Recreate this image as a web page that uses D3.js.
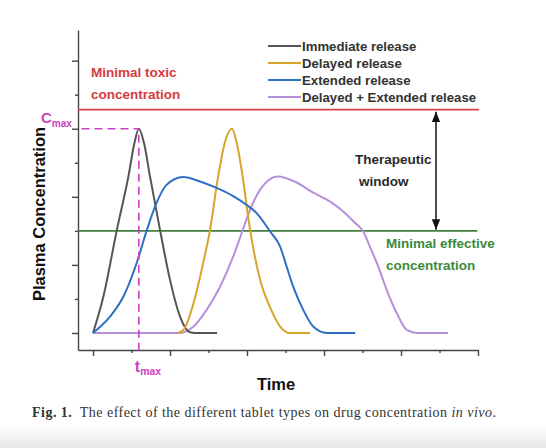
<!DOCTYPE html>
<html>
<head>
<meta charset="utf-8">
<script src="https://cdn.jsdelivr.net/npm/d3@7"></script>
<style>
  body { margin: 0; background: #fff; }
  svg { display: block; }
  .lbl { font-family: "Liberation Sans", Arial, sans-serif; font-weight: bold; }
  .axis path, .axis line { stroke: #444; stroke-width: 1.4; }
</style>
</head>
<body>
<script>
//curve data, time (arbitrary units) and plasma concentration
var seriesNames = ["Immediate release", "Delayed release", "Extended release", "Delayed + Extended release"];

var immediateT = [0, 0.27, 0.62, 0.92, 1.08, 1.19, 1.32, 1.48, 1.74, 2.0, 2.26, 2.52, 2.65, 3.22];
var immediateC = [0, 1.07, 3.03, 4.6, 5.6, 6.0, 5.6, 4.6, 3.03, 1.56, 0.48, 0.02, 0, 0];

var delayedT = [2.2, 2.35, 2.61, 2.86, 3.04, 3.25, 3.45, 3.61, 3.73, 3.86, 4.08, 4.34, 4.6, 4.86, 5.12, 5.64];
var delayedC = [0, 0.09, 0.87, 2.05, 3.03, 4.6, 5.7, 6.0, 5.6, 4.79, 3.03, 1.56, 0.75, 0.19, 0, 0];

var extendedT = [0, 0.44, 0.79, 1.13, 1.4, 1.65, 1.91, 2.34, 2.78, 3.21, 3.64, 3.99, 4.25, 4.6, 4.86, 5.03, 5.2, 5.46, 5.72, 6.07, 6.81];
var extendedC = [0, 0.48, 1.07, 2.04, 3.03, 3.82, 4.35, 4.58, 4.45, 4.26, 4.02, 3.76, 3.52, 2.98, 2.54, 1.95, 1.36, 0.68, 0.19, 0, 0];

var comboT = [0, 2.26, 2.61, 2.95, 3.3, 3.64, 3.86, 4.08, 4.34, 4.8, 5.29, 5.72, 6.16, 6.5, 6.81, 7.02, 7.19, 7.41, 7.63, 7.89, 8.15, 8.41, 9.22];
var comboC = [0, 0, 0.19, 0.68, 1.36, 2.24, 2.93, 3.62, 4.21, 4.6, 4.42, 4.12, 3.86, 3.57, 3.23, 2.98, 2.54, 1.95, 1.26, 0.58, 0.09, 0, 0];

var toxicLevel = 6.56;     //minimal toxic concentration
var effectiveLevel = 3.0;  //minimal effective concentration
var cmax = 6.0, tmax = 1.19;

var xTicks = [0, 1, 2, 3, 4, 5, 6, 7, 8, 9, 10];
var yTicks = [0, 1, 2, 3, 4, 5, 6, 7, 8];

var colors = ["#555555", "#d7a52a", "#2f6fc6", "#b590db"];
var magenta = "#cf3fc3";

var width = 546, height = 448;

var svg = d3.select("body").append("svg")
    .attr("width", width)
    .attr("height", height);

//soft grey fade at the bottom of the photo
var defs = svg.append("defs");
var grad = defs.append("linearGradient")
    .attr("id", "fade").attr("x1", 0).attr("y1", 0).attr("x2", 0).attr("y2", 1);
grad.append("stop").attr("offset", "0%").attr("stop-color", "#ffffff");
grad.append("stop").attr("offset", "100%").attr("stop-color", "#e6e6e6");
svg.append("rect").attr("x", 0).attr("y", 425).attr("width", width).attr("height", 23)
    .attr("fill", "url(#fade)");

var x = d3.scaleLinear().domain([-0.39, 10]).range([78, 478]);
var y = d3.scaleLinear().domain([-0.5, 8.9]).range([350, 30]);

//axes
var xAxis = svg.append("g")
    .attr("class", "axis")
    .attr("transform", "translate(0," + y(-0.5) + ")")
    .call(d3.axisBottom(x).tickValues(xTicks).tickSizeOuter(0).tickFormat(""));
xAxis.selectAll(".tick line").attr("y2", function(d){ return d % 2 == 0 ? 6 : 3; });

var yAxis = svg.append("g")
    .attr("class", "axis")
    .attr("transform", "translate(" + x(-0.39) + ",0)")
    .call(d3.axisLeft(y).tickValues(yTicks).tickSizeOuter(0).tickFormat(""));
yAxis.selectAll(".tick line").attr("x2", function(d){ return d % 2 == 0 ? -6 : -3; });

//reference levels
svg.append("line")
    .attr("x1", x(-0.39)).attr("x2", x(10.03))
    .attr("y1", y(toxicLevel)).attr("y2", y(toxicLevel))
    .attr("stroke", "#d9404a").attr("stroke-width", 1.6);
svg.append("line")
    .attr("x1", x(-0.39)).attr("x2", x(9.98))
    .attr("y1", y(effectiveLevel)).attr("y2", y(effectiveLevel))
    .attr("stroke", "#3f7f3f").attr("stroke-width", 1.6);

//curves
var line = d3.line()
    .x(function(d){ return x(d[0]); })
    .y(function(d){ return y(d[1]); })
    .curve(d3.curveMonotoneX);

var series = [
    d3.zip(immediateT, immediateC),
    d3.zip(delayedT, delayedC),
    d3.zip(extendedT, extendedC),
    d3.zip(comboT, comboC)
];
var drawOrder = [3, 0, 1, 2];
drawOrder.forEach(function(i){
    svg.append("path")
        .datum(series[i])
        .attr("fill", "none")
        .attr("stroke", colors[i])
        .attr("stroke-width", 2)
        .attr("d", line);
});

//Cmax / tmax guides
svg.append("line")
    .attr("x1", x(-0.3)).attr("x2", x(tmax))
    .attr("y1", y(cmax)).attr("y2", y(cmax))
    .attr("stroke", magenta).attr("stroke-width", 1.6).attr("stroke-dasharray", "8,5");
svg.append("line")
    .attr("x1", x(tmax)).attr("x2", x(tmax))
    .attr("y1", y(cmax) + 6).attr("y2", y(-0.58))
    .attr("stroke", magenta).attr("stroke-width", 1.6).attr("stroke-dasharray", "8,5");

var cLbl = svg.append("text").attr("class", "lbl").attr("fill", magenta)
    .attr("x", 41).attr("y", 123).attr("font-size", 15).text("C");
cLbl.append("tspan").attr("font-size", 10).attr("dy", 4).text("max");
var tLbl = svg.append("text").attr("class", "lbl").attr("fill", magenta)
    .attr("x", x(tmax) - 4).attr("y", 372).attr("font-size", 16).text("t");
tLbl.append("tspan").attr("font-size", 10.5).attr("dy", 3).text("max");

//legend
var legend = svg.append("g");
seriesNames.forEach(function(name, i){
    var ly = 46 + i * 17;
    legend.append("line")
        .attr("x1", 268).attr("x2", 301).attr("y1", ly).attr("y2", ly)
        .attr("stroke", colors[i]).attr("stroke-width", 2);
    legend.append("text").attr("class", "lbl")
        .attr("x", 302).attr("y", ly + 4.5)
        .attr("font-size", 13.2).attr("fill", "#333")
        .text(name);
});

//annotations
function twoLines(x0, y0, lines, color, dx){
    lines.forEach(function(t, i){
        svg.append("text").attr("class", "lbl")
            .attr("x", x0 + (dx ? dx[i] : 0)).attr("y", y0 + i * 22)
            .attr("font-size", 13.5).attr("fill", color)
            .text(t);
    });
}
twoLines(91, 77, ["Minimal toxic", "concentration"], "#d63a40");
twoLines(386, 248, ["Minimal effective", "concentration"], "#3b8a3b");
twoLines(355, 164, ["Therapeutic", "window"], "#2a2a2a", [0, 4]);

//therapeutic window arrow
defs.append("marker")
    .attr("id", "head").attr("viewBox", "0 0 10 10")
    .attr("refX", 10).attr("refY", 5)
    .attr("markerWidth", 7).attr("markerHeight", 7)
    .attr("orient", "auto-start-reverse")
    .append("path").attr("d", "M0,1L10,5L0,9Z").attr("fill", "#111");
svg.append("line")
    .attr("x1", 436).attr("x2", 436)
    .attr("y1", y(toxicLevel) + 2).attr("y2", y(effectiveLevel) - 1)
    .attr("stroke", "#111").attr("stroke-width", 1.5)
    .attr("marker-start", "url(#head)").attr("marker-end", "url(#head)");

//axis titles
svg.append("text").attr("class", "lbl")
    .attr("transform", "translate(45," + 214 + ") rotate(-90)")
    .attr("text-anchor", "middle").attr("font-size", 16.5).attr("fill", "#111")
    .text("Plasma Concentration");
svg.append("text").attr("class", "lbl")
    .attr("x", 276).attr("y", 390)
    .attr("text-anchor", "middle").attr("font-size", 16.5).attr("fill", "#111")
    .text("Time");

//caption
var cap = svg.append("text")
    .attr("x", 32).attr("y", 417)
    .attr("font-family", "'Liberation Serif', 'Times New Roman', serif")
    .attr("font-size", 14).attr("fill", "#333")
    .attr("textLength", 464).attr("lengthAdjust", "spacing");
cap.append("tspan").attr("font-weight", "bold").text("Fig. 1.");
cap.append("tspan").text("\u2002The effect of the different tablet types on drug concentration ");
cap.append("tspan").attr("font-style", "italic").text("in vivo");
cap.append("tspan").text(".");
</script>
</body>
</html>
